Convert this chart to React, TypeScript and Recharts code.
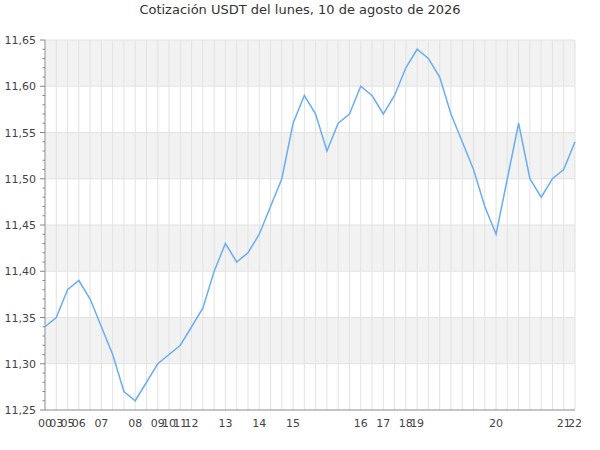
import React from "react";
import { LineChart, Line, XAxis, YAxis, CartesianGrid } from "recharts";

const hourLabels = [
  "00", "03", "05", "06", "", "07", "", "", "08", "", "09", "10", "11", "12", "", "",
  "13", "", "", "14", "", "", "15", "", "", "", "", "", "16", "", "17", "", "18", "19",
  "", "", "", "", "", "", "20", "", "", "", "", "", "21", "22",
];

const prices = [
  11.34, 11.35, 11.38, 11.39, 11.37, 11.34, 11.31, 11.27, 11.26, 11.28, 11.30, 11.31,
  11.32, 11.34, 11.36, 11.40, 11.43, 11.41, 11.42, 11.44, 11.47, 11.50, 11.56, 11.59,
  11.57, 11.53, 11.56, 11.57, 11.60, 11.59, 11.57, 11.59, 11.62, 11.64, 11.63, 11.61,
  11.57, 11.54, 11.51, 11.47, 11.44, 11.50, 11.56, 11.50, 11.48, 11.50, 11.51, 11.54,
];

const yMin = 11.25;
const yMax = 11.65;
const yMajorTicks = [11.25, 11.3, 11.35, 11.4, 11.45, 11.5, 11.55, 11.6, 11.65];
const yAllTicks = Array.from({ length: 41 }, (_, k) => (1125 + k) / 100);

const data = prices.map((p, i) => ({ i, price: p }));

const isMajor = (v: number) => yMajorTicks.some((m) => Math.abs(m - v) < 1e-6);

const YTick = (props: any) => {
  const { x, y, payload } = props;
  const v = payload.value as number;
  const major = isMajor(v);
  return (
    <g>
      <line x1={x - (major ? 5 : 2.5)} x2={x} y1={y} y2={y} stroke="#888" strokeWidth={1} />
      {major && (
        <text x={x - 9} y={y} dy={4} textAnchor="end" fontSize={11} fill="#444" fontFamily="DejaVu Sans">
          {v.toFixed(2).replace(".", ",")}
        </text>
      )}
    </g>
  );
};

const hGen = (p: any) => {
  const top = p.offset.top;
  const h = p.offset.height;
  return yMajorTicks.map((v) => top + ((yMax - v) / (yMax - yMin)) * h);
};

export default function App() {
  return (
    <div style={{ position: "absolute", left: 0, top: 0, width: 600, height: 450, background: "#fff" }}>
      <div
        style={{
          position: "absolute",
          top: 2,
          left: 0,
          width: 600,
          textAlign: "center",
          fontFamily: "DejaVu Sans",
          fontSize: 13,
          color: "#333",
        }}
      >
        Cotización USDT del lunes, 10 de agosto de 2026
      </div>
      <LineChart width={600} height={450} data={data} margin={{ top: 40, right: 25, left: 0, bottom: 0 }}>
        <CartesianGrid
          stroke="#e2e2e2"
          horizontalFill={["#f2f2f2", "#ffffff"]}
          fillOpacity={1}
          horizontalCoordinatesGenerator={hGen}
        />
        <XAxis
          dataKey="i"
          interval={0}
          tickLine={false}
          axisLine={{ stroke: "#999" }}
          height={40}
          tick={{ fontSize: 11, fill: "#444", fontFamily: "DejaVu Sans" }}
          tickFormatter={(v: any, idx: number) => hourLabels[idx] ?? ""}
          tickMargin={3}
        />
        <YAxis
          type="number"
          domain={[yMin, yMax]}
          ticks={yAllTicks}
          interval={0}
          width={45}
          tickLine={false}
          tickSize={0}
          tickMargin={0}
          axisLine={{ stroke: "#999" }}
          tick={<YTick />}
          allowDataOverflow
        />
        <Line
          type="linear"
          dataKey="price"
          stroke="#6aaef2"
          strokeWidth={1.5}
          dot={false}
          isAnimationActive={false}
        />
      </LineChart>
    </div>
  );
}
